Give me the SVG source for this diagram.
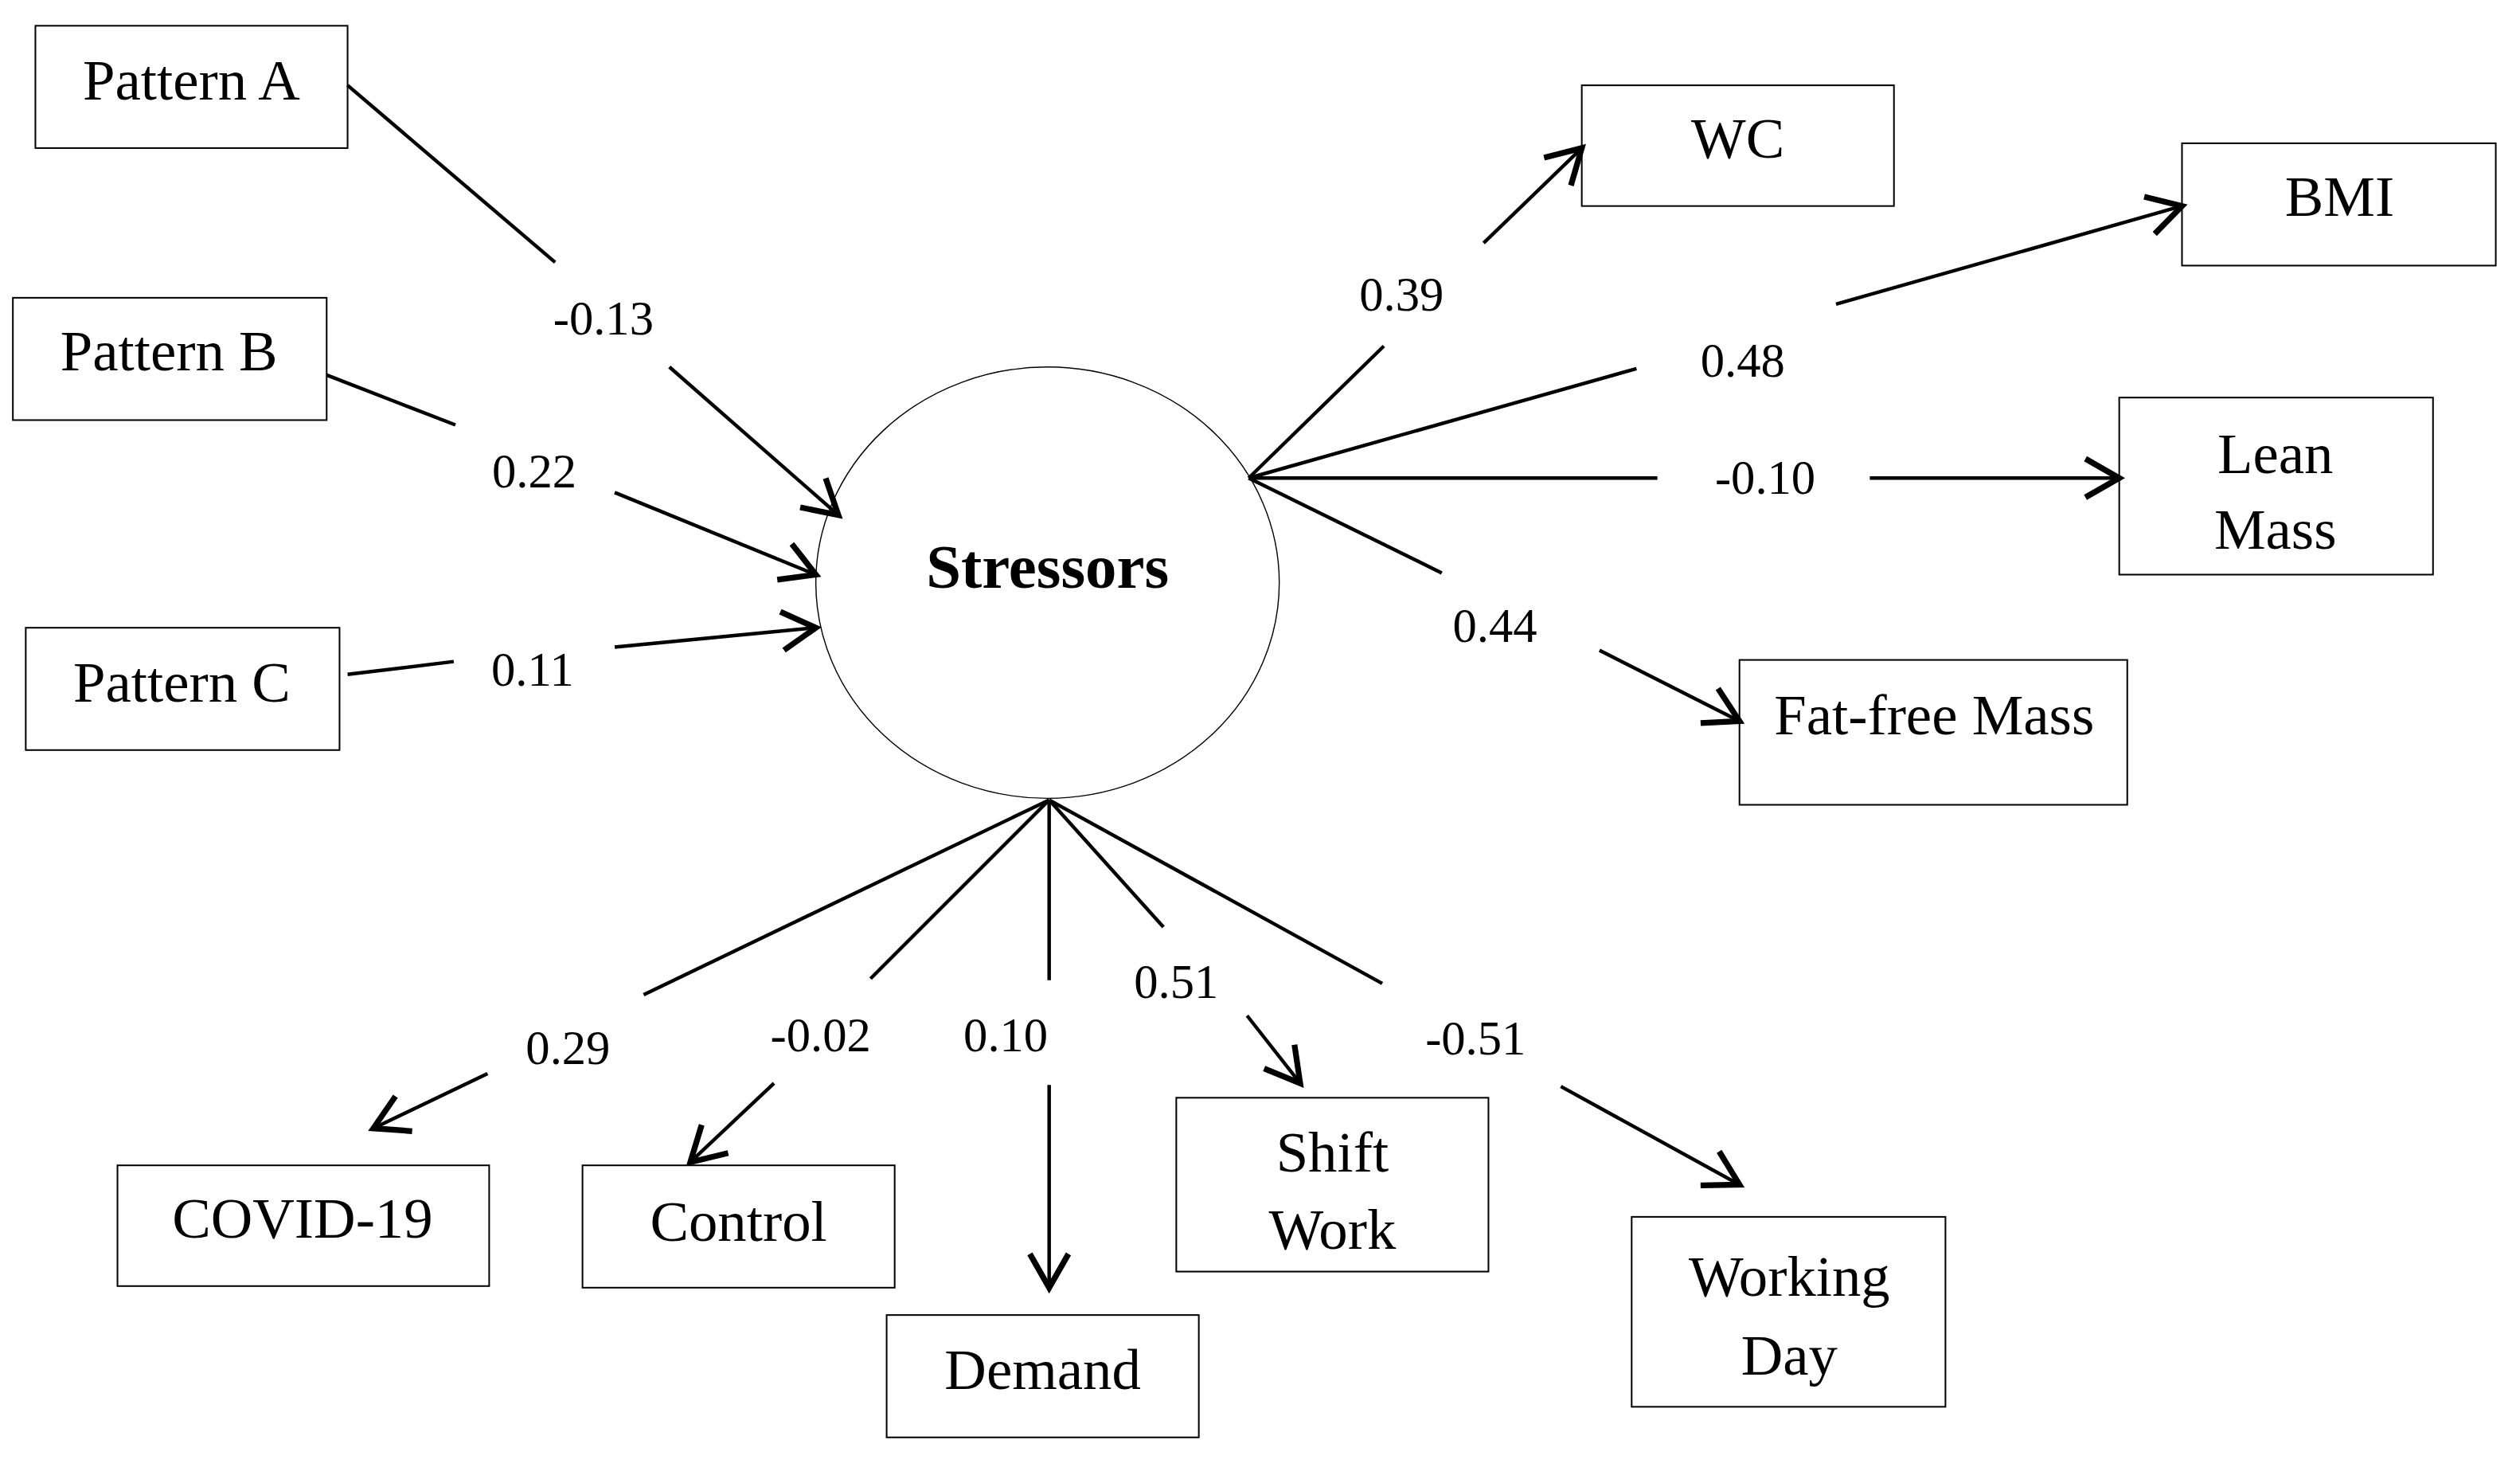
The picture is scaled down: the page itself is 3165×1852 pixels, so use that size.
<svg xmlns="http://www.w3.org/2000/svg" width="3165" height="1852" viewBox="0 0 3165 1852">
<style>
.b{fill:#fff;stroke:#000;stroke-width:1}
.t{font-family:"Liberation Serif","DejaVu Serif",serif;font-size:36px;text-anchor:middle;fill:#000}
.l{font-family:"Liberation Serif","DejaVu Serif",serif;font-size:30px;text-anchor:middle;fill:#000}
.c line{stroke:#000;stroke-width:2.2;fill:none}
</style>
<defs>
<marker id="ah" markerUnits="userSpaceOnUse" markerWidth="30" markerHeight="30" viewBox="-16 -10 20 20" refX="0" refY="0" orient="auto">
<path d="M-14,-8 L0,0 L-14,8" fill="none" stroke="#000" stroke-width="2.4"/>
</marker>
</defs>
<rect width="3165" height="1852" fill="#fff"/>
<g transform="scale(2.021)">
<g id="stressors"><ellipse cx="651" cy="362" rx="144" ry="134" fill="#fff" stroke="#000" stroke-width="0.7"/><text x="651" y="365" class="t" style="font-weight:bold;font-size:39px">Stressors</text></g>
<g id="patternA"><rect class="b" x="22" y="16" width="194" height="76"/><text class="t" x="119" y="62">Pattern A</text></g>
<g id="patternB"><rect class="b" x="8" y="185" width="195" height="76"/><text class="t" x="105" y="230">Pattern B</text></g>
<g id="patternC"><rect class="b" x="16" y="390" width="195" height="76"/><text class="t" x="113" y="436">Pattern C</text></g>
<g id="wc"><rect class="b" x="983" y="53" width="194" height="75"/><text class="t" x="1080" y="98">WC</text></g>
<g id="bmi"><rect class="b" x="1356" y="89" width="195" height="76"/><text class="t" x="1454" y="134">BMI</text></g>
<g id="lean"><rect class="b" x="1317" y="247" width="195" height="110"/><text class="t" x="1414" y="294">Lean</text><text class="t" x="1414" y="341">Mass</text></g>
<g id="fatfree"><rect class="b" x="1081" y="410" width="241" height="90"/><text class="t" x="1202" y="456">Fat-free Mass</text></g>
<g id="covid"><rect class="b" x="73" y="724" width="231" height="75"/><text class="t" x="188" y="769">COVID-19</text></g>
<g id="control"><rect class="b" x="362" y="724" width="194" height="76"/><text class="t" x="459" y="771">Control</text></g>
<g id="demand"><rect class="b" x="551" y="817" width="194" height="76"/><text class="t" x="648" y="863">Demand</text></g>
<g id="shift"><rect class="b" x="731" y="682" width="194" height="108"/><text class="t" x="828" y="728">Shift</text><text class="t" x="828" y="776">Work</text></g>
<g id="working"><rect class="b" x="1014" y="756" width="195" height="118"/><text class="t" x="1112" y="805">Working</text><text class="t" x="1112" y="854">Day</text></g>
<g id="connectors" class="c">
<line x1="216" y1="53" x2="345" y2="163"/><line x1="416" y1="228" x2="521" y2="320" marker-end="url(#ah)"/>
<line x1="203" y1="233" x2="283" y2="264"/><line x1="382" y1="306" x2="507" y2="357" marker-end="url(#ah)"/>
<line x1="216" y1="419" x2="282" y2="411"/><line x1="382" y1="402" x2="507" y2="390" marker-end="url(#ah)"/>
<line x1="776" y1="297" x2="860" y2="215"/><line x1="922" y1="151" x2="983" y2="92" marker-end="url(#ah)"/>
<line x1="776" y1="297" x2="1017" y2="229"/><line x1="1141" y1="189" x2="1356" y2="128" marker-end="url(#ah)"/>
<line x1="776" y1="297" x2="1030" y2="297"/><line x1="1162" y1="297" x2="1317" y2="297" marker-end="url(#ah)"/>
<line x1="776" y1="297" x2="896" y2="356"/><line x1="994" y1="404" x2="1081" y2="448" marker-end="url(#ah)"/>
<line x1="652" y1="497" x2="400" y2="618"/><line x1="303" y1="667" x2="232" y2="701" marker-end="url(#ah)"/>
<line x1="652" y1="497" x2="541" y2="608"/><line x1="481" y1="673" x2="429" y2="722" marker-end="url(#ah)"/>
<line x1="652" y1="497" x2="652" y2="609"/><line x1="652" y1="674" x2="652" y2="800" marker-end="url(#ah)"/>
<line x1="652" y1="497" x2="723" y2="576"/><line x1="775" y1="631" x2="808" y2="673" marker-end="url(#ah)"/>
<line x1="652" y1="497" x2="859" y2="611"/><line x1="970" y1="675" x2="1081" y2="736" marker-end="url(#ah)"/>
</g>
<g id="labels">
<text class="l" x="375" y="208">-0.13</text>
<text class="l" x="332" y="303">0.22</text>
<text class="l" x="331" y="426">0.11</text>
<text class="l" x="871" y="193">0.39</text>
<text class="l" x="1083" y="234">0.48</text>
<text class="l" x="1097" y="307">-0.10</text>
<text class="l" x="929" y="399">0.44</text>
<text class="l" x="353" y="661">0.29</text>
<text class="l" x="510" y="653">-0.02</text>
<text class="l" x="625" y="653">0.10</text>
<text class="l" x="731" y="620">0.51</text>
<text class="l" x="917" y="655">-0.51</text>
</g>
</g>
</svg>
